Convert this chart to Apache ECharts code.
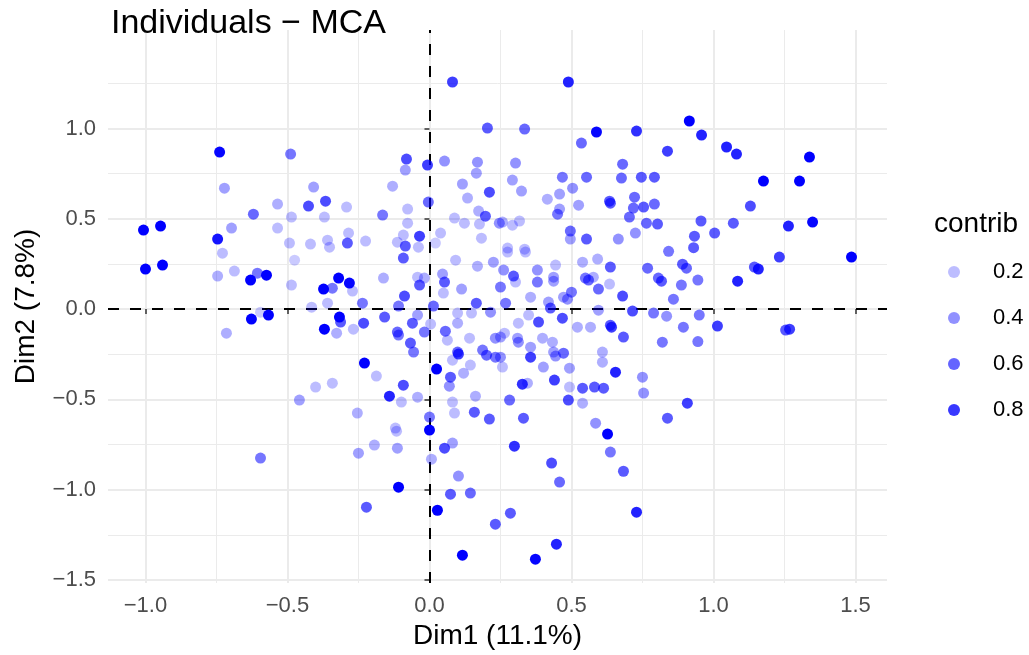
<!DOCTYPE html>
<html>
<head>
<meta charset="utf-8">
<script src="https://cdn.jsdelivr.net/npm/echarts@6/dist/echarts.min.js"></script>
<style>
html, body { margin: 0; padding: 0; background: #fff; }
#chart { width: 1029px; height: 655px; }
</style>
</head>
<body>
<div id="chart"></div>
<script>
var xTicks = [-1, -0.5, 0, 0.5, 1, 1.5];
var yTicks = [-1.5, -1, -0.5, 0, 0.5, 1];
var xMinor = [-0.75, -0.25, 0.25, 0.75, 1.25];
var yMinor = [-1.25, -0.75, -0.25, 0.25, 0.75, 1.25];
var contribBreaks = [0.2, 0.4, 0.6, 0.8];
var contribRange = [0, 0.82];

// [Dim1, Dim2, contrib]
var points = [
  [-0.739,0.870,.8],[-0.489,0.859,.4],[-0.722,0.670,.25],[-0.535,0.582,.2],[-0.620,0.526,.45],
  [-0.486,0.510,.15],[-1.007,0.438,.85],[-0.947,0.460,.85],[-0.697,0.449,.25],[-0.535,0.449,.15],
  [-0.746,0.388,.75],[-0.493,0.366,.15],[-0.729,0.310,.15],[-0.475,0.271,.1],[-1.0,0.222,.85],
  [-0.940,0.244,.85],[-0.746,0.183,.2],[-0.687,0.211,.15],[-0.606,0.199,.4],[-0.630,0.161,.85],
  [-0.574,0.188,.85],[-0.486,0.133,.15],[-0.595,-0.017,.1],[-0.627,-0.055,.85],[-0.567,-0.033,.85],
  [-0.715,-0.133,.2],[-0.458,-0.504,.25],[-0.595,-0.825,.4],
  [0.081,1.258,.6],[0.204,1.003,.5],[-0.081,0.831,.55],[-0.085,0.770,.25],[-0.007,0.798,.6],
  [0.053,0.820,.3],[0.169,0.814,.3],[0.165,0.753,.25],[-0.408,0.676,.25],[-0.130,0.681,.2],
  [0.116,0.693,.25],[0.211,0.648,.55],[0.134,0.615,.2],[-0.426,0.571,.55],[-0.366,0.598,.55],
  [-0.292,0.565,.15],[-0.370,0.510,.15],[-0.077,0.554,.15],[-0.004,0.593,.45],[-0.165,0.521,.4],
  [-0.077,0.476,.15],[0.088,0.504,.15],[0.123,0.476,.15],[0.173,0.543,.2],[0.197,0.515,.5],
  [0.176,0.471,.15],[0.246,0.476,.3],[-0.285,0.421,.15],[-0.359,0.382,.15],[-0.419,0.360,.15],
  [-0.289,0.366,.5],[-0.225,0.377,.15],[-0.092,0.410,.15],[-0.035,0.404,.6],[0.039,0.421,.15],
  [-0.113,0.371,.15],[-0.085,0.349,.5],[-0.039,0.343,.15],[0.021,0.366,.1],[0.183,0.393,.15],
  [-0.352,0.343,.15],
  [-0.092,0.283,.5],[0.092,0.271,.15],[0.169,0.238,.2],[0.225,0.260,.25],[-0.320,0.172,.85],
  [-0.282,0.144,.8],[-0.373,0.111,.85],[-0.342,0.116,.4],[-0.271,0.100,.15],[-0.162,0.172,.2],
  [-0.042,0.177,.15],[-0.035,0.133,.5],[-0.018,0.172,.2],[0.046,0.194,.25],[0.053,0.150,.5],
  [0.049,0.089,.15],[0.113,0.111,.25],[-0.088,0.072,.55],[-0.236,0.033,.4],[-0.415,0.011,.15],
  [-0.359,0.033,.15],[-0.109,0.017,.4],[0.014,0.017,.45],[0.099,-0.022,.15],[0.165,0.033,.5],
  [0.148,-0.022,.15],[0.215,-0.017,.3],[-0.317,-0.044,.85],[-0.370,-0.111,.85],[-0.313,-0.072,.5],
  [-0.327,-0.133,.2],[-0.268,-0.111,.15],[-0.232,-0.078,.55],[-0.158,-0.044,.5],[-0.060,-0.078,.5],
  [-0.042,-0.033,.25],[0.004,-0.083,.15],[-0.113,-0.127,.45],[-0.109,-0.144,.4],[-0.018,-0.127,.4],
  [0.056,-0.122,.45],[0.099,-0.078,.2],[0.063,-0.172,.15],[0.141,-0.161,.15],[-0.067,-0.188,.5],
  [-0.056,-0.238,.4],[0.099,-0.238,.45],[0.102,-0.249,.6],[0.187,-0.227,.4],[0.201,-0.255,.45],
  [0.232,-0.266,.4],[0.232,-0.161,.3],[0.081,-0.283,.15],[0.144,-0.310,.15],[-0.229,-0.299,.85],
  [0.025,-0.332,.85],[0.074,-0.377,.5],[0.070,-0.427,.3],[0.120,-0.355,.2],[-0.187,-0.371,.15],
  [-0.092,-0.421,.55],[-0.141,-0.482,.7],[-0.099,-0.515,.15],[-0.042,-0.488,.2],[-0.342,-0.410,.15],
  [-0.401,-0.432,.15],[0.081,-0.515,.15],[0.162,-0.482,.2],[0.158,-0.571,.5],[0.211,-0.609,.5],
  [0.088,-0.576,.15],[0.0,-0.598,.4],[0.0,-0.670,.85],[-0.120,-0.659,.15],[-0.254,-0.576,.2],
  [-0.116,-0.676,.15],[-0.250,-0.798,.25],[-0.194,-0.753,.2],[-0.113,-0.770,.25],[0.007,-0.831,.2],
  [0.053,-0.770,.55],[0.081,-0.742,.25],[0.102,-0.925,.3],[-0.109,-0.986,.85],[0.074,-1.025,.5],
  [0.144,-1.019,.45],[-0.222,-1.097,.5],[0.028,-1.114,.85],[0.232,-1.191,.5],[0.116,-1.363,.85],
  [0.627,-0.692,.85],[0.299,-0.759,.65],[0.637,-0.792,.4],[0.430,-0.853,.55],[0.683,-0.898,.5],
  [0.458,-0.958,.45],[0.285,-1.130,.5],[0.729,-1.125,.7],[0.447,-1.302,.7],[0.373,-1.385,.8],
  [0.489,1.258,.7],[0.335,0.997,.45],[0.588,0.981,.8],[0.729,0.986,.65],[0.915,1.042,.9],
  [0.958,0.964,.7],[0.535,0.920,.45],[0.838,0.875,.6],[0.303,0.809,.3],[0.680,0.803,.45],
  [0.292,0.715,.25],[0.468,0.731,.4],[0.553,0.731,.45],[0.676,0.726,.45],[0.746,0.731,.5],
  [0.792,0.731,.5],[0.324,0.654,.25],[0.415,0.609,.2],[0.458,0.637,.25],[0.504,0.670,.3],
  [0.525,0.576,.25],[0.458,0.554,.25],[0.451,0.526,.4],[0.634,0.598,.5],[0.637,0.587,.5],
  [0.722,0.620,.45],[0.718,0.560,.45],[0.754,0.565,.5],[0.792,0.582,.45],[0.704,0.510,.45],
  [0.764,0.476,.45],[0.803,0.471,.5],[0.956,0.488,.5],[0.257,0.482,.2],[0.292,0.465,.15],
  [0.317,0.488,.15],[0.496,0.432,.45],[0.496,0.388,.25],[0.553,0.388,.5],[0.665,0.388,.3],
  [0.725,0.421,.3],[0.933,0.404,.5],[0.930,0.340,.5],[0.842,0.320,.4],[0.275,0.338,.15],
  [0.335,0.332,.15],
  [1.046,0.898,.7],[1.081,0.859,.7],[1.338,0.842,.9],[1.176,0.709,.9],[1.303,0.709,.85],
  [1.130,0.571,.55],[1.070,0.476,.5],[1.004,0.421,.5],[1.264,0.460,.7],[1.349,0.482,.8],
  [1.232,0.288,.6],[1.486,0.288,.9],[1.144,0.233,.5],[1.158,0.222,.7],[1.085,0.155,.7],
  [1.014,-0.094,.6],[1.254,-0.116,.5],[1.268,-0.111,.6],
  [0.275,0.316,.15],[0.338,0.316,.15],[0.261,0.216,.3],[0.296,0.183,.5],[0.303,0.150,.15],
  [0.380,0.216,.3],[0.380,0.150,.4],[0.437,0.177,.25],[0.437,0.155,.25],[0.444,0.244,.15],
  [0.539,0.260,.2],[0.592,0.277,.2],[0.637,0.233,.5],[0.549,0.172,.4],[0.560,0.161,.45],
  [0.577,0.177,.2],[0.595,0.111,.45],[0.634,0.139,.15],[0.680,0.072,.55],[0.768,0.227,.45],
  [0.806,0.172,.45],[0.817,0.155,.5],[0.891,0.249,.5],[0.905,0.227,.45],[0.887,0.133,.4],
  [0.945,0.161,.4],[0.859,0.055,.4],[0.250,0.122,.4],[0.268,0.033,.4],[0.356,0.066,.2],
  [0.419,0.039,.25],[0.426,0.006,.5],[0.472,0.066,.25],[0.500,0.094,.4],[0.486,0.055,.3],
  [0.595,-0.006,.25],[0.715,-0.011,.55],[0.789,-0.022,.4],[0.835,-0.039,.3],[0.950,-0.033,.4],
  [0.313,-0.078,.15],[0.349,-0.033,.15],[0.384,-0.072,.55],[0.468,-0.050,.55],[0.521,-0.100,.2],
  [0.567,-0.100,.2],[0.637,-0.089,.5],[0.641,-0.100,.6],[0.894,-0.100,.4],[0.250,-0.155,.25],
  [0.264,-0.133,.15],[0.310,-0.161,.25],[0.313,-0.183,.3],[0.398,-0.161,.2],[0.433,-0.183,.2],
  [0.683,-0.155,.5],[0.820,-0.183,.4],[0.945,-0.180,.4],[0.356,-0.211,.25],[0.437,-0.238,.25],
  [0.444,-0.260,.3],[0.472,-0.244,.45],[0.356,-0.266,.6],[0.250,-0.266,.3],[0.257,-0.321,.15],
  [0.609,-0.238,.2],[0.609,-0.294,.2],[0.401,-0.321,.25],[0.493,-0.327,.25],[0.655,-0.349,.7],
  [0.750,-0.377,.3],[0.327,-0.416,.65],[0.345,-0.410,.2],[0.440,-0.393,.6],[0.493,-0.432,.15],
  [0.539,-0.438,.5],[0.581,-0.432,.5],[0.613,-0.438,.5],[0.754,-0.465,.3],[0.282,-0.504,.45],
  [0.489,-0.504,.55],[0.539,-0.521,.2],[0.908,-0.521,.6],[0.331,-0.604,.5],[0.585,-0.632,.3],
  [0.838,-0.604,.5]
];

var font = '"Liberation Sans", Arial, Helvetica, sans-serif';

function fmt(v) {
  return (v < 0 ? '\u2212' : '') + Math.abs(v).toFixed(1);
}

function alphaFor(c) {
  return 0.1 + 0.9 * (c - contribRange[0]) / (contribRange[1] - contribRange[0]);
}

var chart = echarts.init(document.getElementById('chart'));

var guideLines = [];
xMinor.forEach(function (v) {
  guideLines.push({ xAxis: v, lineStyle: { color: '#ebebeb', width: 1, type: 'solid' } });
});
yMinor.forEach(function (v) {
  guideLines.push({ yAxis: v, lineStyle: { color: '#ebebeb', width: 1, type: 'solid' } });
});
guideLines.push({ xAxis: 0, lineStyle: { color: '#000', width: 2, type: [11, 11] } });
guideLines.push({ yAxis: 0, lineStyle: { color: '#000', width: 2, type: [11, 11] } });

var legendSeries = contribBreaks.map(function (c) {
  return {
    name: String(c),
    type: 'scatter',
    data: [],
    itemStyle: { color: 'rgba(0,0,255,' + alphaFor(c).toFixed(3) + ')' }
  };
});

var option = {
  animation: false,
  backgroundColor: '#fff',
  textStyle: { fontFamily: font },
  title: [{
    text: 'Individuals \u2212 MCA',
    left: 106,
    top: 2,
    textStyle: { fontSize: 34, fontWeight: 'normal', color: '#000', fontFamily: font }
  }, {
    text: 'contrib',
    left: 929,
    top: 205,
    textStyle: { fontSize: 28, fontWeight: 'normal', color: '#000', fontFamily: font }
  }],
  grid: { left: 108, right: 142, top: 30, bottom: 72 },
  legend: {
    data: contribBreaks.map(String),
    orient: 'vertical',
    left: 948,
    top: 261,
    padding: 0,
    itemWidth: 12,
    itemHeight: 12,
    itemGap: 24,
    icon: 'circle',
    selectedMode: false,
    textStyle: { fontSize: 22, color: '#000', lineHeight: 22, padding: [0, 0, 0, 28], fontFamily: font }
  },
  visualMap: {
    type: 'continuous',
    show: false,
    seriesIndex: 0,
    dimension: 2,
    min: contribRange[0],
    max: contribRange[1],
    inRange: { opacity: [0.1, 1] }
  },
  xAxis: {
    type: 'value',
    min: -1.132,
    max: 1.611,
    name: 'Dim1 (11.1%)',
    nameLocation: 'middle',
    nameGap: 38,
    nameTextStyle: { fontSize: 28, color: '#000', fontFamily: font },
    axisLine: { show: false },
    axisTick: { show: true, length: 5, lineStyle: { color: '#333', width: 1.5 }, customValues: xTicks },
    axisLabel: { customValues: xTicks, formatter: fmt, fontSize: 22, color: '#4d4d4d', margin: 12, fontFamily: font },
    splitLine: { show: true, lineStyle: { color: '#ebebeb', width: 2 } }
  },
  yAxis: {
    type: 'value',
    min: -1.517,
    max: 1.546,
    name: 'Dim2 (7.8%)',
    nameLocation: 'middle',
    nameGap: 68,
    nameRotate: 90,
    nameTextStyle: { fontSize: 28, color: '#000', fontFamily: font },
    axisLine: { show: false },
    axisTick: { show: true, length: 5, lineStyle: { color: '#333', width: 1.5 }, customValues: yTicks },
    axisLabel: { customValues: yTicks, formatter: fmt, fontSize: 22, color: '#4d4d4d', margin: 12, fontFamily: font },
    splitLine: { show: true, lineStyle: { color: '#ebebeb', width: 2 } }
  },
  series: [{
    name: 'individuals',
    type: 'scatter',
    symbolSize: 11,
    z: 10,
    itemStyle: { color: '#0000ff' },
    data: points
  }, {
    name: 'guides',
    type: 'scatter',
    data: [],
    z: 1,
    markLine: {
      silent: true,
      symbol: 'none',
      label: { show: false },
      animation: false,
      data: guideLines
    }
  }].concat(legendSeries)
};

chart.setOption(option);
</script>
</body>
</html>
